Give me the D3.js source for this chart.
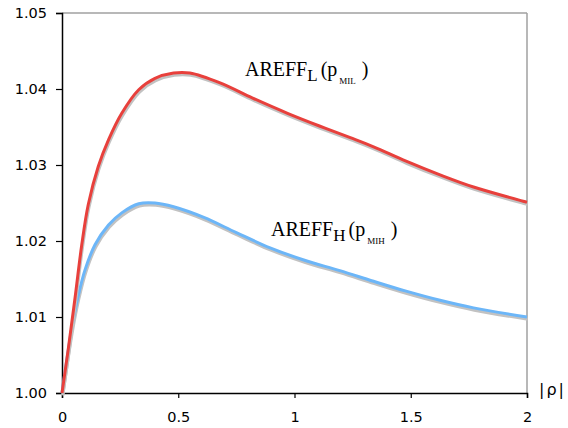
<!DOCTYPE html>
<html lang="en">
<head>
<meta charset="UTF-8">
<title>AREFF curves</title>
<script src="https://d3js.org/d3.v7.min.js"></script>
<style>
  body { margin: 0; padding: 0; background: #ffffff; }
  svg { display: block; }
  .tick text { font-family: "DejaVu Sans", Verdana, sans-serif; font-size: 14.5px; fill: #000; }
  .curve-label { font-family: "Liberation Serif", "Times New Roman", serif; fill: #000; }
</style>
</head>
<body>
<div id="chart"></div>
<script>
// values
const rhoL = [0, 0.027, 0.056, 0.085, 0.113, 0.156, 0.2, 0.257, 0.33, 0.4, 0.48, 0.55, 0.68, 0.82, 0.97, 1.11, 1.24, 1.34, 1.48, 1.626, 1.77, 2];
const areffL = [1.0, 1.0058, 1.0125, 1.0195, 1.0248, 1.0298, 1.0333, 1.0368, 1.0399, 1.0414, 1.0421, 1.0421, 1.0408, 1.0388, 1.0368, 1.0351, 1.0336, 1.0324, 1.0305, 1.0287, 1.0271, 1.0251];

const rhoH = [0, 0.042, 0.07, 0.099, 0.142, 0.2, 0.257, 0.33, 0.4, 0.48, 0.61, 0.75, 0.895, 1.04, 1.195, 1.34, 1.48, 1.626, 1.77, 2];
const areffH = [1.0, 1.0085, 1.0128, 1.0162, 1.0195, 1.0221, 1.0237, 1.0249, 1.025, 1.0245, 1.0231, 1.0211, 1.0191, 1.0175, 1.0161, 1.0147, 1.0134, 1.0122, 1.0112, 1.01];

const xTicks = [0, 0.5, 1, 1.5, 2];
const yTicks = [1.00, 1.01, 1.02, 1.03, 1.04, 1.05];

const width = 568, height = 428;
const margin = { top: 13, right: 41, bottom: 35, left: 62 };

const svg = d3.select("#chart").append("svg")
  .attr("width", width)
  .attr("height", height);

const x = d3.scaleLinear().domain([0, 2]).range([margin.left, width - margin.right]);
const y = d3.scaleLinear().domain([1.0, 1.05]).range([height - margin.bottom, margin.top]);

// grey frame top and right
svg.append("line")
  .attr("x1", x(0)).attr("x2", x(2))
  .attr("y1", y(1.05)).attr("y2", y(1.05))
  .attr("stroke", "#a0a0a0").attr("stroke-width", 1.5);
svg.append("line")
  .attr("x1", x(2)).attr("x2", x(2))
  .attr("y1", y(1.05)).attr("y2", y(1.0))
  .attr("stroke", "#a0a0a0").attr("stroke-width", 1.5);

// axes
const yAxis = svg.append("g")
  .attr("transform", `translate(${margin.left},0)`)
  .call(d3.axisLeft(y).tickValues(yTicks).tickFormat(d3.format(".2f")).tickSize(6).tickPadding(9));
const xAxis = svg.append("g")
  .attr("transform", `translate(0,${height - margin.bottom})`)
  .call(d3.axisBottom(x).tickValues(xTicks).tickFormat(d => d).tickSize(5).tickPadding(14));

[yAxis, xAxis].forEach(g => {
  g.attr("font-family", null).attr("font-size", null);
  g.select(".domain").attr("stroke", "#000").attr("stroke-width", 1.5);
  g.selectAll(".tick line").attr("stroke", "#000").attr("stroke-width", 1.2);
});

const line = d3.line()
  .x(d => x(d[0]))
  .y(d => y(d[1]))
  .curve(d3.curveCatmullRom.alpha(0.5));

function drawCurve(rho, vals, color) {
  const pts = rho.map((r, i) => [r, vals[i]]);
  // grey shadow underneath
  svg.append("path")
    .datum(pts)
    .attr("d", line)
    .attr("transform", "translate(0.8,2.3)")
    .attr("fill", "none")
    .attr("stroke", "#c2c2c2")
    .attr("stroke-width", 3);
  svg.append("path")
    .datum(pts)
    .attr("d", line)
    .attr("fill", "none")
    .attr("stroke", color)
    .attr("stroke-width", 3);
}

drawCurve(rhoH, areffH, "#6cb6f8");
drawCurve(rhoL, areffL, "#e8403c");

// curve labels
function curveLabel(px, py, sub, small) {
  const t = svg.append("text").attr("class", "curve-label")
    .attr("x", px).attr("y", py);
  t.append("tspan").attr("font-size", 20).text("AREFF");
  t.append("tspan").attr("font-size", 17).attr("dy", 5).text(sub);
  t.append("tspan").attr("font-size", 20).attr("dy", -5).attr("dx", 3).text("(p");
  t.append("tspan").attr("font-size", 9).attr("dy", 8).attr("dx", 2).text(small);
  t.append("tspan").attr("font-size", 20).attr("dy", -8).attr("dx", 6).text(")");
}
curveLabel(245, 76, "L", "MIL");
curveLabel(271, 236, "H", "MIH");

// x axis title
svg.append("text")
  .attr("x", 539).attr("y", 395)
  .attr("font-family", "DejaVu Sans, Verdana, sans-serif")
  .attr("font-size", 16)
  .attr("letter-spacing", 2)
  .text("|ρ|");
</script>
</body>
</html>
